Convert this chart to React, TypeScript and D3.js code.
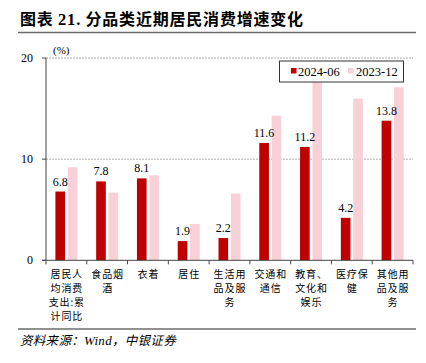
import React from "react";
import * as d3 from "d3";

const categories = [
  ["居民人", "均消费", "支出:累", "计同比"],
  ["食品烟", "酒"],
  ["衣着"],
  ["居住"],
  ["生活用", "品及服", "务"],
  ["交通和", "通信"],
  ["教育、", "文化和", "娱乐"],
  ["医疗保", "健"],
  ["其他用", "品及服", "务"],
];
const seriesNames = ["2024-06", "2023-12"];
const values2024_06 = [6.8, 7.8, 8.1, 1.9, 2.2, 11.6, 11.2, 4.2, 13.8];
const values2023_12 = [9.2, 6.7, 8.4, 3.6, 6.6, 14.3, 17.6, 16.0, 17.1];
const yTicks = [0, 10, 20];

const colors = ["#C00000", "#F8D0D7"];
const serif = "'Times New Roman', 'Liberation Serif', serif";
const cjk = "'Noto Sans CJK SC', sans-serif";

export default function App() {
  const W = 426, H = 363;
  const left = 46, right = 413, top = 58, bottom = 260.3;
  const keys = categories.map((c) => c.join(""));
  const x = d3.scaleBand<string>().domain(keys).range([left, right]).padding(0);
  const groupW = 22;
  const inner = d3.scaleBand<string>().domain(seriesNames).range([0, groupW]).paddingInner(0.22);
  const y = d3.scaleLinear().domain([0, 20]).range([bottom, top]);
  const data = [values2024_06, values2023_12];
  const bw = x.bandwidth();

  return (
    <svg width={W} height={H} style={{ position: "absolute", left: 0, top: 0, background: "#fff" }}>
      <text x={20} y={25} fontFamily={cjk} fontWeight="bold" fontSize={16} letterSpacing={0.8} fill="#000">
        图表 <tspan fontFamily={serif} fontWeight="bold" fontSize={16.5}>21.</tspan> 分品类近期居民消费增速变化
      </text>
      <line x1={18} x2={416} y1={32.5} y2={32.5} stroke="#6b6b6b" strokeWidth={1.5} />

      {/* gridlines */}
      {yTicks.filter((t) => t > 0).map((t) => (
        <line key={t} x1={left} x2={right} y1={y(t)} y2={y(t)} stroke="#999" strokeWidth={0.8} strokeDasharray="2,1" />
      ))}
      {/* bars */}
      {seriesNames.map((s, si) =>
        keys.map((k, i) => {
          const x0 = (x(k) as number) + (bw - groupW) / 2 + (inner(s) as number);
          return (
            <rect key={s + k} x={x0} y={y(data[si][i])} width={inner.bandwidth()} height={y(0) - y(data[si][i])} fill={colors[si]} />
          );
        })
      )}
      {/* value labels */}
      {keys.map((k, i) => {
        const cx = (x(k) as number) + (bw - groupW) / 2 + (inner(seriesNames[0]) as number) + inner.bandwidth() / 2;
        return (
          <text key={k} x={cx} y={y(values2024_06[i]) - 6} textAnchor="middle" fontFamily={serif} fontSize={12} fill="#000">
            {values2024_06[i].toFixed(1)}
          </text>
        );
      })}
      {/* axes */}
      <line x1={left} x2={left} y1={top} y2={bottom} stroke="#444" strokeWidth={1} />
      <line x1={left - 4} x2={right} y1={bottom} y2={bottom} stroke="#444" strokeWidth={1} />
      {yTicks.map((t) => (
        <g key={t}>
          <line x1={left - 4} x2={left} y1={y(t)} y2={y(t)} stroke="#444" />
          <text x={33} y={y(t) + 4} textAnchor="end" fontFamily={serif} fontSize={12} fill="#000">{t}</text>
        </g>
      ))}
      {keys.map((k) => (
        <line key={k} x1={x(k) as number} x2={x(k) as number} y1={bottom} y2={bottom + 4} stroke="#444" />
      ))}
      <line x1={right} x2={right} y1={bottom} y2={bottom + 4} stroke="#444" />
      <text x={53} y={54} fontFamily={serif} fontSize={11} fill="#000">(%)</text>
      {/* category labels */}
      {categories.map((lines, i) => (
        <text key={i} textAnchor="middle" fontFamily={cjk} fontSize={10} letterSpacing={0.9} fill="#000">
          {lines.map((ln, j) => (
            <tspan key={j} x={(x(keys[i]) as number) + bw / 2 + 0.45} y={278 + j * 14}>{ln}</tspan>
          ))}
        </text>
      ))}
      {/* legend */}
      <rect x={279.5} y={61} width={124} height={21} fill="#fff" stroke="#333" strokeWidth={1} />
      <rect x={291} y={68} width={5.5} height={5.5} fill={colors[0]} />
      <text x={298} y={75.5} fontFamily={serif} fontSize={12.5} fill="#000">{seriesNames[0]}</text>
      <rect x={348} y={68} width={5.5} height={5.5} fill={colors[1]} />
      <text x={356} y={75.5} fontFamily={serif} fontSize={12.5} fill="#000">{seriesNames[1]}</text>

      <line x1={18} x2={416} y1={329} y2={329} stroke="#6b6b6b" strokeWidth={1.5} />
      <text x={20} y={345} fontFamily={cjk} fontStyle="italic" fontSize={12.5} letterSpacing={0.3} fill="#000">
        资料来源：<tspan fontFamily={serif} fontStyle="italic" fontSize={13}>Wind</tspan>，中银证券
      </text>
    </svg>
  );
}
